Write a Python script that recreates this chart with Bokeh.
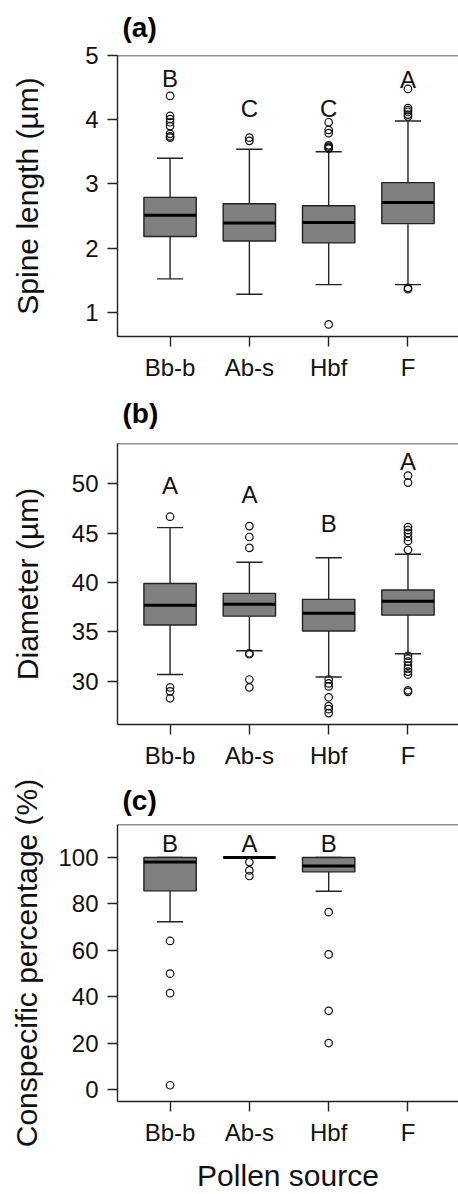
import numpy as np
from bokeh.plotting import figure
from bokeh.layouts import column
from bokeh.models import Range1d, FixedTicker, Span
from bokeh.core.properties import value
from bokeh.embed import file_html
from bokeh.resources import INLINE

# ---------------- data ----------------
sources = ["Bb-b", "Ab-s", "Hbf", "F"]

# (a) Spine length (µm)
spine_q1 = [2.18, 2.11, 2.08, 2.38]
spine_med = [2.51, 2.39, 2.40, 2.71]
spine_q3 = [2.79, 2.69, 2.66, 3.02]
spine_lo = [1.52, 1.28, 1.43, 1.43]
spine_hi = [3.40, 3.54, 3.50, 3.98]
spine_out = [
    [4.37, 4.06, 4.01, 3.96, 3.90, 3.78, 3.74, 3.72],
    [3.72, 3.67],
    [3.96, 3.84, 3.79, 3.60, 3.58, 3.56, 3.55, 0.81],
    [4.48, 4.18, 4.15, 4.12, 4.08, 4.05, 1.38, 1.36],
]
spine_letters = ["B", "C", "C", "A"]
spine_letter_y = [4.64, 4.18, 4.18, 4.63]

# (b) Diameter (µm)
diam_q1 = [35.7, 36.6, 35.1, 36.7]
diam_med = [37.7, 37.8, 36.9, 38.1]
diam_q3 = [39.9, 38.9, 38.3, 39.25]
diam_lo = [30.7, 33.1, 30.45, 32.8]
diam_hi = [45.55, 42.05, 42.5, 42.85]
diam_out = [
    [46.65, 29.4, 29.0, 28.3],
    [45.7, 44.6, 43.5, 32.85, 32.75, 30.2, 29.4],
    [30.2, 29.8, 29.5, 28.4, 27.5, 27.2, 26.8],
    [50.8, 50.1, 45.6, 45.3, 45.0, 44.6, 44.2, 43.3,
     32.6, 32.3, 32.0, 31.6, 31.3, 31.0, 30.7, 29.1, 28.95],
]
diam_letters = ["A", "A", "B", "A"]
diam_letter_y = [49.8, 48.9, 46.0, 52.2]

# (c) Conspecific percentage (%)
consp_q1 = [85.6, 100.0, 93.8, np.nan]
consp_med = [98.0, 100.0, 96.3, np.nan]
consp_q3 = [100.0, 100.0, 100.0, np.nan]
consp_lo = [72.3, 100.0, 85.4, np.nan]
consp_hi = [100.0, 100.0, 100.0, np.nan]
consp_out = [
    [64.0, 49.9, 41.5, 1.8],
    [98.0, 94.4, 92.0],
    [76.4, 58.2, 33.9, 20.0],
    [],
]
consp_letters = ["B", "A", "B", ""]
consp_letter_y = [106.2, 106.2, 106.2, np.nan]

# ---------------- style ----------------
FONT = "Liberation Sans"
LINE = "#222222"
BOX_FILL = "#808080"
TICK_PX = "24px"
LABEL_PX = "30px"
TITLE_PX = "28px"
BOX_W = 0.66
CAP_W = 0.33


def panel(title, ylabel, yr, yticks, q1, med, q3, lo, hi, outs, letters, letter_y,
          height, b_top, b_bottom, ylabel_standoff, title_valign, title_standoff,
          xlabel=None):
    n = len(sources)
    xs = np.arange(1, n + 1, dtype=float)
    p = figure(width=458, height=height, output_backend="svg", toolbar_location=None,
               x_range=Range1d(0.337, 4.637), y_range=Range1d(*yr),
               min_border_left=117, min_border_right=0,
               min_border_top=b_top, min_border_bottom=b_bottom)
    p.outline_line_color = None
    p.grid.visible = False
    p.background_fill_color = "white"
    p.border_fill_color = "white"

    # title
    p.title.text = title
    p.title.text_font = FONT
    p.title.text_font_size = TITLE_PX
    p.title.text_font_style = "bold"
    p.title.text_color = "#000000"
    p.title.align = "left"
    p.title.offset = 5
    p.title.vertical_align = title_valign
    p.title.standoff = title_standoff

    q1 = np.asarray(q1, float); med = np.asarray(med, float); q3 = np.asarray(q3, float)
    lo = np.asarray(lo, float); hi = np.asarray(hi, float)
    ok = ~np.isnan(med)
    x = xs[ok]

    # whiskers
    p.segment(x, q3[ok], x, hi[ok], line_color=LINE, line_width=1.4)
    p.segment(x, q1[ok], x, lo[ok], line_color=LINE, line_width=1.4)
    p.segment(x - CAP_W / 2, hi[ok], x + CAP_W / 2, hi[ok], line_color=LINE, line_width=1.4)
    p.segment(x - CAP_W / 2, lo[ok], x + CAP_W / 2, lo[ok], line_color=LINE, line_width=1.4)
    # boxes
    p.quad(left=x - BOX_W / 2, right=x + BOX_W / 2, bottom=q1[ok], top=q3[ok],
           fill_color=BOX_FILL, line_color=LINE, line_width=1.4)
    # medians
    p.segment(x - BOX_W / 2, med[ok], x + BOX_W / 2, med[ok], line_color="#000000", line_width=3)

    # outliers
    ox, oy = [], []
    for i, vals in enumerate(outs):
        ox += [xs[i]] * len(vals)
        oy += list(vals)
    p.scatter(ox, oy, marker="circle", size=7.5, fill_color="white", fill_alpha=0.0,
              line_color="#111111", line_width=1.2)

    # letters
    lx = [xs[i] for i in range(n) if letters[i]]
    ly = [letter_y[i] for i in range(n) if letters[i]]
    lt = [letters[i] for i in range(n) if letters[i]]
    p.text(lx, ly, text=lt, text_font=value(FONT), text_font_size=TICK_PX,
           text_align="center", text_baseline="middle", text_color="#111111")

    # top border
    p.add_layout(Span(location=yr[1], dimension="width", line_color=LINE, line_width=1.4))

    # axes
    for ax in (p.xaxis, p.yaxis):
        ax.axis_line_color = LINE
        ax.axis_line_width = 1.4
        ax.major_tick_line_color = LINE
        ax.major_tick_line_width = 1.4
        ax.major_tick_in = 0
        ax.major_tick_out = 10
        ax.minor_tick_in = 0
        ax.minor_tick_out = 0
        ax.major_label_text_font = FONT
        ax.major_label_text_font_size = TICK_PX
        ax.major_label_text_color = "#111111"
        ax.axis_label_text_font = FONT
        ax.axis_label_text_font_size = LABEL_PX
        ax.axis_label_text_font_style = "normal"
        ax.axis_label_text_color = "#111111"

    p.xaxis.ticker = FixedTicker(ticks=list(xs))
    p.xaxis.major_label_overrides = {float(xs[i]): sources[i] for i in range(n)}
    p.xaxis.major_label_standoff = 7
    if xlabel:
        p.xaxis.axis_label = xlabel
        p.xaxis.axis_label_standoff = 10

    p.yaxis.ticker = FixedTicker(ticks=yticks)
    p.yaxis.major_label_standoff = 9
    p.yaxis.axis_label = ylabel
    p.yaxis.axis_label_standoff = ylabel_standoff
    return p


pa = panel("(a)", "Spine length (µm)", (0.622, 5.0), [1, 2, 3, 4, 5],
           spine_q1, spine_med, spine_q3, spine_lo, spine_hi, spine_out,
           spine_letters, spine_letter_y, height=385, b_top=53, b_bottom=49,
           ylabel_standoff=38, title_valign="top", title_standoff=22)
pb = panel("(b)", "Diameter (µm)", (25.65, 54.05), [30, 35, 40, 45, 50],
           diam_q1, diam_med, diam_q3, diam_lo, diam_hi, diam_out,
           diam_letters, diam_letter_y, height=387, b_top=56, b_bottom=48,
           ylabel_standoff=25, title_valign="top", title_standoff=25)
pc = panel("(c)", "Conspecific percentage (%)", (-5.2, 114.2), [0, 20, 40, 60, 80, 100],
           consp_q1, consp_med, consp_q3, consp_lo, consp_hi, consp_out,
           consp_letters, consp_letter_y, height=422, b_top=52, b_bottom=87,
           ylabel_standoff=12, title_valign="bottom", title_standoff=17,
           xlabel="Pollen source")

layout = column(pa, pb, pc, spacing=0)
open("out.html", "w").write(file_html(layout, INLINE))
